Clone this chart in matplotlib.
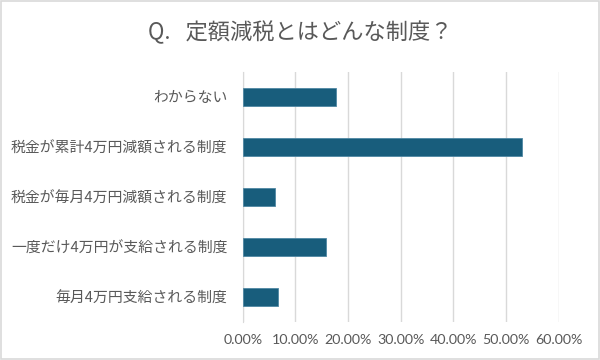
import matplotlib.pyplot as plt
from matplotlib.patches import Rectangle
from matplotlib.ticker import FuncFormatter

plt.rcParams['font.family'] = ['Noto Sans CJK JP', 'DejaVu Sans']

# 回答項目（上から順）
labels = ['わからない', '税金が累計4万円減額される制度', '税金が毎月4万円減額される制度',
          '一度だけ4万円が支給される制度', '毎月4万円支給される制度']
values = [0.1766, 0.5303, 0.0608, 0.1582, 0.0665]
xticks = [0.0, 0.1, 0.2, 0.3, 0.4, 0.5, 0.6]

text_color = '#595959'
grid_color = '#D9D9D9'
bar_color = '#185D7C'

fig = plt.figure(figsize=(6, 3.6), dpi=100)
ax = fig.add_axes([0.4045, 0.1056, 0.5267, 0.6944])

pos = list(range(len(labels)))
ax.barh(pos, values, height=0.35, color=bar_color, edgecolor='#4F87A3', linewidth=0.6, zorder=3)

ax.set_ylim(len(labels) - 0.5, -0.5)
ax.set_xlim(0, 0.6)
ax.set_xticks(xticks)
ax.xaxis.set_major_formatter(FuncFormatter(lambda v, p: f'{v * 100:.2f}%'))
ax.set_yticks(pos)
ax.set_yticklabels(labels, fontsize=10.7, color=text_color)

for t in ax.get_xticklabels():
    t.set_fontfamily(['Lato', 'DejaVu Sans'])
    t.set_fontsize(10.3)
    t.set_color(text_color)

ax.grid(axis='x', color=grid_color, linewidth=1, zorder=0)
for s in ['top', 'right', 'bottom']:
    ax.spines[s].set_visible(False)
ax.spines['left'].set_color(grid_color)
ax.tick_params(axis='both', length=0)
ax.tick_params(axis='y', pad=11)
ax.tick_params(axis='x', pad=9)

fig.text(0.5, 0.911, 'Q.   定額減税とはどんな制度？', ha='center', va='center',
         fontsize=16, color=text_color)

fig.patches.append(Rectangle((0.001, 0.002), 0.997, 0.995, transform=fig.transFigure,
                             fill=False, edgecolor=grid_color, linewidth=1.2))

plt.savefig('out.png', dpi=100)
